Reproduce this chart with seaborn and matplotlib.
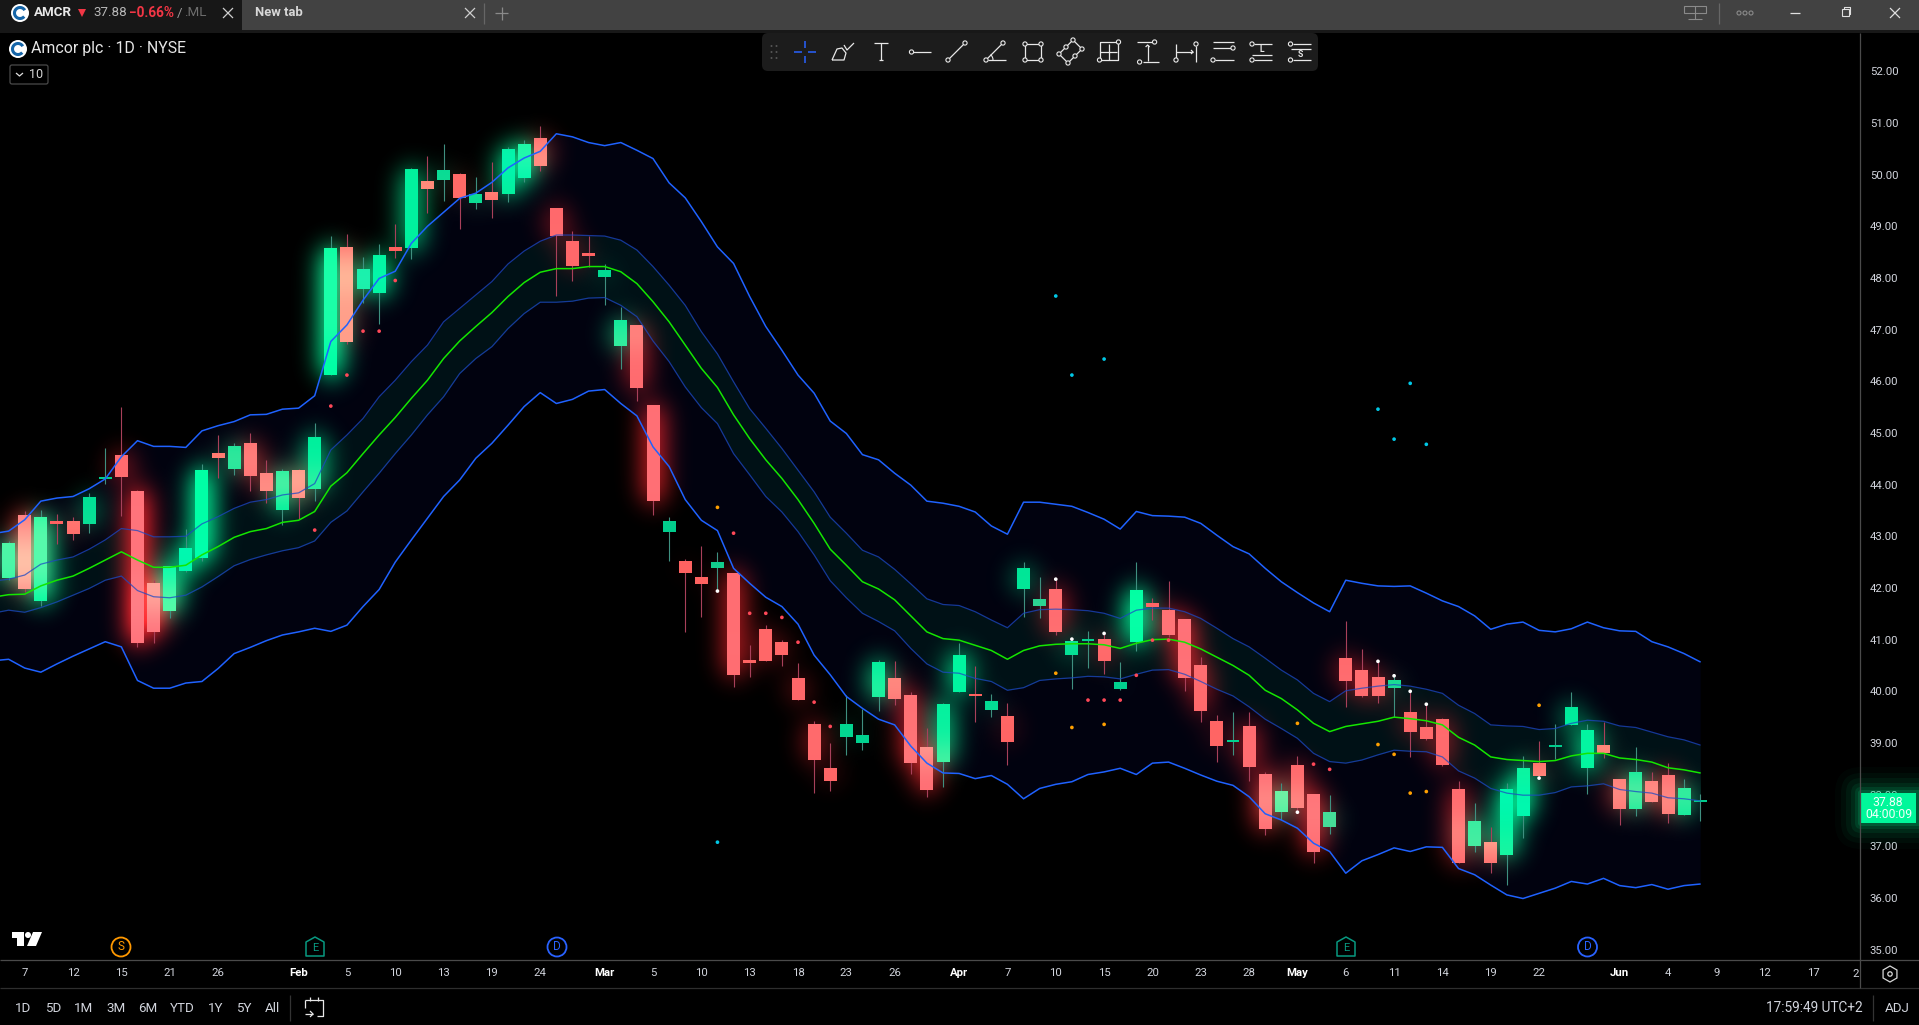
import math
import numpy as np
import pandas as pd
import matplotlib
matplotlib.use("Agg")
import matplotlib.pyplot as plt
import seaborn as sns
from matplotlib.patches import Rectangle, Circle, Polygon, RegularPolygon, FancyBboxPatch, Arc

# ----------------- Daily candles (AMCR) -----------------
highs = [42.90,43.48,43.50,43.43,43.37,43.83,44.70,45.50,43.90,42.15,42.42,43.14,44.40,44.96,44.80,45.00,44.48,44.30,44.30,45.19,
         48.81,48.85,48.41,48.66,49.05,50.13,50.36,50.59,50.03,49.95,50.25,50.54,50.67,50.94,49.35,48.91,48.81,48.27,47.44,47.09,
         45.54,43.37,42.56,42.81,42.70,42.29,40.90,41.28,40.99,40.55,39.43,39.00,39.93,39.66,40.61,40.59,39.99,39.29,39.77,40.94,
         40.49,39.95,39.77,42.50,42.21,42.15,40.99,41.17,41.11,40.57,42.50,41.81,42.14,41.40,40.66,39.54,39.60,39.60,38.44,38.23,
         38.75,38.01,37.99,41.36,40.82,40.57,40.30,39.99,39.74,39.48,38.26,37.84,37.37,38.23,38.75,39.04,39.37,39.99,39.37,39.41,
         38.30,38.92,38.44,38.61,38.30,38.01]
lows = [42.15,41.92,41.65,42.86,42.92,43.06,44.01,43.39,40.86,40.94,41.42,42.31,42.52,44.13,44.19,43.88,43.65,43.22,43.34,43.68,
        46.12,46.72,47.51,47.11,48.39,48.37,49.26,49.49,48.95,49.34,49.16,49.47,49.86,50.07,47.65,47.94,48.21,47.48,46.24,45.62,
        43.41,42.52,41.15,41.44,41.94,40.08,40.28,40.59,40.49,39.83,38.03,38.07,38.77,38.86,39.62,39.74,38.40,37.95,38.15,39.99,
        39.41,39.50,38.57,41.44,41.42,41.09,40.05,40.45,40.34,40.03,40.78,41.38,41.05,40.01,39.41,38.63,38.77,38.26,37.22,37.51,
        37.66,36.68,37.24,39.70,39.89,39.77,39.50,38.73,39.06,38.55,36.68,36.89,36.48,36.25,37.16,38.32,38.69,39.35,38.01,38.71,
        37.41,37.59,37.86,37.45,37.61,37.49]
opens = [42.19,43.41,41.74,43.30,43.30,43.24,44.10,44.57,43.88,42.08,41.55,42.33,42.58,44.61,44.30,44.79,44.21,43.51,44.28,43.92,
         46.12,48.58,47.79,47.71,48.60,48.58,49.86,49.90,50.01,49.45,49.65,49.63,49.94,50.71,49.35,48.70,48.48,48.02,46.68,47.07,
         45.52,43.08,42.52,42.21,42.39,42.29,40.61,41.19,40.95,40.24,39.35,38.50,39.12,39.00,39.89,40.24,39.91,38.92,38.63,39.99,
         39.95,39.64,39.52,41.98,41.65,41.98,40.70,40.97,41.01,40.05,40.95,41.71,41.57,41.40,40.51,39.41,39.02,39.33,38.40,37.66,
         38.57,38.01,37.37,40.63,40.41,40.26,40.06,39.58,39.31,39.45,38.11,37.01,37.08,36.83,37.59,38.61,38.92,39.35,38.52,38.96,
         38.30,37.72,38.26,38.38,37.61,37.86]
closes = [42.85,41.98,43.35,43.24,43.05,43.76,44.11,44.15,40.94,41.15,42.41,42.77,44.28,44.52,44.73,44.17,43.88,44.26,43.74,44.92,
          48.56,46.76,48.17,48.43,48.52,50.09,49.72,50.09,49.55,49.61,49.51,50.50,50.59,50.17,48.81,48.23,48.43,48.15,47.17,45.87,
          43.68,43.28,42.29,42.08,42.50,40.32,40.55,40.59,40.70,39.83,38.67,38.26,39.37,39.14,40.55,39.85,38.61,38.09,39.75,40.70,
          39.91,39.81,39.02,42.37,41.77,41.15,40.97,41.01,40.59,40.18,41.94,41.63,41.09,40.26,39.62,38.94,39.06,38.54,37.34,38.05,
          37.74,36.89,37.65,40.20,39.91,39.91,40.20,39.21,39.08,38.57,36.68,37.49,36.68,38.09,38.50,38.36,38.96,39.68,39.25,38.81,
          37.72,38.42,37.86,37.63,38.13,37.88]
# how strongly each candle glows in the picture
glow_strength = [.8,.9,.9,.1,.3,.4,0,.6,1,.9,.9,.8,1,.2,.5,.6,.6,.7,.6,.7,
                 1,.3,.6,.8,0,.7,.1,.3,.2,.3,.2,.7,.8,.5,.5,.4,.2,.3,.6,.6,
                 .8,0,.1,.1,0,.7,.2,.3,.3,.4,.5,.3,.2,.1,.7,.5,.7,.8,.7,.8,
                 0,.3,.2,.5,.1,.6,.4,.1,.4,.1,1,.3,.6,.8,.5,.2,.1,.6,.8,.7,
                 .5,.8,.3,.5,.5,.5,.3,.4,.3,.5,.6,.6,.4,.8,.8,.3,0,.6,.8,.2,.6,.6,.5,.6,.6,0]

# ----------------- Bands (first value sits one session left of candle 0) -----------------
upper_outer = [43.05,43.10,43.32,43.68,43.74,43.77,43.92,44.11,44.54,44.85,44.74,44.74,44.72,45.04,45.14,45.22,45.35,45.36,45.46,45.48,45.72,
               46.77,47.09,47.57,47.99,48.13,48.67,49.00,49.27,49.54,49.64,49.85,50.13,50.32,50.45,50.79,50.73,50.62,50.56,50.62,50.47,
               50.31,49.84,49.55,49.09,48.60,48.28,47.64,47.06,46.60,46.12,45.77,45.23,44.99,44.58,44.48,44.22,43.99,43.68,43.64,43.58,
               43.47,43.20,43.04,43.66,43.66,43.62,43.58,43.46,43.33,43.14,43.48,43.40,43.39,43.37,43.25,43.02,42.80,42.66,42.38,42.12,
               41.91,41.71,41.54,42.15,42.09,42.04,42.03,42.04,41.90,41.75,41.64,41.46,41.20,41.30,41.34,41.18,41.15,41.21,41.34,41.23,
               41.17,41.16,40.96,40.86,40.73,40.57]
upper_inner = [42.13,42.17,42.25,42.46,42.54,42.60,42.75,42.93,43.15,43.11,42.99,42.99,43.00,43.24,43.38,43.54,43.66,43.71,43.80,43.84,44.02,
               44.67,44.96,45.28,45.70,46.02,46.38,46.70,47.15,47.41,47.67,47.93,48.27,48.52,48.71,48.83,48.83,48.82,48.81,48.73,48.54,
               48.22,47.86,47.47,46.96,46.53,45.99,45.47,45.09,44.70,44.28,43.86,43.37,43.06,42.73,42.60,42.36,42.08,41.79,41.68,41.66,
               41.54,41.38,41.23,41.51,41.58,41.59,41.58,41.56,41.51,41.41,41.57,41.61,41.61,41.54,41.41,41.22,41.02,40.86,40.64,40.41,
               40.22,39.96,39.80,40.01,40.06,40.10,40.13,40.10,40.04,39.96,39.73,39.57,39.35,39.33,39.32,39.26,39.28,39.38,39.44,39.42,
               39.33,39.30,39.21,39.12,39.06,38.96]
middle = [41.82,41.87,41.88,42.04,42.15,42.23,42.38,42.54,42.70,42.54,42.40,42.40,42.44,42.64,42.80,42.98,43.09,43.15,43.27,43.31,43.48,
          43.97,44.23,44.60,44.96,45.30,45.67,46.02,46.44,46.78,47.06,47.33,47.64,47.91,48.11,48.18,48.18,48.22,48.22,48.12,47.89,
          47.54,47.15,46.70,46.25,45.88,45.35,44.89,44.48,44.12,43.71,43.25,42.75,42.44,42.12,41.98,41.77,41.46,41.15,41.02,40.99,
          40.89,40.79,40.62,40.79,40.88,40.91,40.92,40.92,40.90,40.83,40.93,41.00,41.01,40.95,40.82,40.66,40.50,40.31,40.02,39.86,
          39.64,39.38,39.22,39.32,39.37,39.42,39.50,39.47,39.43,39.35,39.11,38.96,38.73,38.68,38.66,38.64,38.66,38.75,38.80,38.80,
          38.71,38.68,38.63,38.52,38.48,38.42]
lower_inner = [41.51,41.57,41.53,41.62,41.73,41.86,41.99,42.15,42.23,41.95,41.83,41.81,41.86,42.02,42.22,42.43,42.55,42.64,42.72,42.78,42.91,
               43.27,43.49,43.86,44.22,44.60,44.96,45.35,45.70,46.15,46.44,46.67,47.02,47.31,47.53,47.53,47.55,47.61,47.62,47.47,47.25,
               46.78,46.38,45.89,45.49,45.18,44.60,44.19,43.77,43.47,43.09,42.64,42.14,41.81,41.51,41.35,41.17,40.83,40.53,40.37,40.35,
               40.25,40.19,40.02,40.07,40.21,40.24,40.26,40.29,40.28,40.24,40.33,40.41,40.42,40.33,40.19,40.04,39.91,39.70,39.46,39.28,
               39.09,38.80,38.64,38.61,38.67,38.77,38.86,38.84,38.83,38.73,38.46,38.32,38.12,38.03,37.99,37.99,38.04,38.15,38.17,38.21,
               38.10,38.06,38.03,37.94,37.92,37.88]
lower_outer = [40.59,40.62,40.45,40.37,40.53,40.68,40.82,40.96,40.86,40.21,40.06,40.06,40.16,40.19,40.44,40.73,40.85,40.98,41.09,41.15,41.22,
               41.16,41.28,41.64,41.97,42.50,42.93,43.35,43.77,44.09,44.51,44.80,45.15,45.51,45.78,45.57,45.65,45.81,45.84,45.57,45.33,
               44.73,44.35,43.71,43.31,43.11,42.38,42.09,41.82,41.64,41.30,40.70,40.32,39.90,39.67,39.46,39.35,38.94,38.61,38.42,38.41,
               38.31,38.37,38.20,37.92,38.12,38.20,38.25,38.39,38.44,38.51,38.39,38.61,38.63,38.51,38.38,38.26,38.18,37.96,37.63,37.51,
               37.35,37.06,36.90,36.48,36.72,36.84,36.97,36.90,36.99,36.98,36.57,36.45,36.25,36.06,35.99,36.09,36.19,36.32,36.27,36.38,
               36.24,36.20,36.26,36.17,36.24,36.27]

# ----------------- Signal dots -----------------
red_idx = [19,20,21,22,23,24,45,46,47,48,49,50,51,67,68,69,70,71,72,81,82]
red_val = [43.12,45.52,46.12,46.97,46.97,47.95,43.06,41.51,41.51,41.43,40.95,39.79,39.32,39.83,39.83,39.83,40.31,40.99,40.99,38.59,38.49]
orange_idx = [44,65,66,68,80,85,86,87,88,95]
orange_val = [43.56,40.35,39.30,39.36,39.38,38.97,38.78,38.03,38.06,39.73]
white_idx = [44,65,66,68,80,85,86,87,88,95]
white_val = [41.94,42.17,41.01,41.12,37.66,40.58,40.30,40.00,39.75,38.32]
cyan_idx = [44,65,66,68,85,86,87,88]
cyan_val = [37.08,47.65,46.12,46.43,45.46,44.88,45.96,44.78]

# ----------------- Axis labels -----------------
tick_pos = [1,4,7,10,13,18,21,24,27,30,33,37,40,43,46,49,52,55,59,62,65,68,71,74,77,80,83,86,89,92,95,100,103,106,109,112]
tick_labels = ["7","12","15","21","26","Feb","5","10","13","19","24","Mar","5","10","13","18","23","26","Apr",
               "7","10","15","20","23","28","May","6","11","14","19","22","Jun","4","9","12","17"]
month_labels = ["Feb","Mar","Apr","May","Jun"]
price_ticks = list(range(35, 53))
range_buttons = ["1D","5D","1M","3M","6M","YTD","1Y","5Y","All"]
range_button_x = [23,53,84,116,148,182,216,244,272]

GREEN_LOW, GREEN_HIGH = np.array([0, .80, .55]), np.array([0, 1, .62])
RED_LOW, RED_HIGH = np.array([1, .38, .37]), np.array([1, .44, .47])
GLOW_GREEN, GLOW_RED = np.array([0, 1, .62]), np.array([1, .15, .18])
TEXT = "#d1d4dc"

sns.set_theme(style="dark", rc={"axes.facecolor": "black", "figure.facecolor": "black"})
plt.rcParams["font.family"] = ["Roboto", "DejaVu Sans"]

fig = plt.figure(figsize=(19.19, 10.25), dpi=100)
ax = fig.add_axes([0, 65 / 1025, 1860 / 1919, 927 / 1025])
XMIN, XMAX, YMIN, YMAX = -0.534, 114.92, 34.80, 52.74

n = len(closes)
idx = np.arange(n)
band_x = np.arange(-1, n)
hi, lo, op, cl = map(np.array, (highs, lows, opens, closes))
strength = np.array(glow_strength)
rising = cl >= op
body_top, body_bot = np.maximum(op, cl), np.minimum(op, cl)
body_h = np.maximum(body_top - body_bot, 0.04)

# 1. band fills
ax.fill_between(band_x, lower_outer, upper_outer, color="#01020f", lw=0, zorder=1)
ax.fill_between(band_x, lower_inner, upper_inner, color="#001116", lw=0, zorder=1.1)

# 2. glow as a blurred rectangle per candle, added up
erf = np.vectorize(math.erf)
def blur(v, a, b, s):
    return 0.5 * (erf((v - a) / (s * 1.414)) - erf((v - b) / (s * 1.414)))

gx_grid = np.linspace(XMIN, 105, 850)
gy_grid = np.linspace(YMAX, YMIN, 464)
glow = np.zeros((len(gy_grid), len(gx_grid), 3))
profiles = []
for i in idx:
    col = GLOW_GREEN if rising[i] else GLOW_RED
    px = blur(gx_grid, i - 0.4, i + 0.4, 0.8) * strength[i] * 1.9
    py = blur(gy_grid, body_bot[i], body_bot[i] + body_h[i], 0.25)
    glow += np.outer(py, px)[:, :, None] * col
    profiles.append((px, py, col))
glow = np.clip(glow, 0, 1)
alpha = glow.max(axis=2, keepdims=True)
rgba = np.dstack([glow / np.maximum(alpha, 1e-3), alpha])
ax.imshow(rgba, extent=(XMIN, 105, YMIN, YMAX), aspect="auto", interpolation="bilinear", zorder=1.5)

# 3. candles: wicks, then bodies, then the lighter tint the neighbouring glow gives a body
wick_colors = ["#3f9080" if r else "#a8405a" for r in rising]
ax.vlines(idx, lo, hi, colors=wick_colors, linewidth=0.8, zorder=2)
body_colors = [(GREEN_LOW + (GREEN_HIGH - GREEN_LOW) * s) if r else (RED_LOW + (RED_HIGH - RED_LOW) * s)
               for r, s in zip(rising, strength)]
ax.bar(idx, body_h, bottom=body_bot, width=0.8, color=body_colors, linewidth=0, zorder=3)
for i in idx:
    rows = np.where((gy_grid <= body_bot[i] + body_h[i]) & (gy_grid >= body_bot[i]))[0]
    if len(rows) < 3:
        continue
    c = int(np.argmin(np.abs(gx_grid - i)))
    px, py, col = profiles[i]
    around = np.clip(glow[rows, c] - 0.8 * (py[rows] * px[c])[:, None] * col, 0, 1)
    tint = 1 - (1 - body_colors[i]) * (1 - around)
    ax.imshow(tint[:, None, :], extent=(i - 0.4, i + 0.4, body_bot[i], body_bot[i] + body_h[i]),
              aspect="auto", interpolation="bilinear", zorder=3.1)

# 4. bands
for values, color, lw, a in [(upper_outer, "#1f62ff", 1.1, 1), (lower_outer, "#1f62ff", 1.1, 1),
                             (upper_inner, "#1c49c4", 0.9, .75), (lower_inner, "#1c49c4", 0.9, .75),
                             (middle, "#14e600", 1.1, 1)]:
    sns.lineplot(x=band_x, y=values, color=color, linewidth=lw, alpha=a, estimator=None, ax=ax, zorder=4)

# 5. signal dots
dots = pd.DataFrame({
    "x": red_idx + orange_idx + white_idx + cyan_idx,
    "y": red_val + orange_val + white_val + cyan_val,
    "kind": ["red"] * len(red_idx) + ["orange"] * len(orange_idx) + ["white"] * len(white_idx) + ["cyan"] * len(cyan_idx),
})
sns.scatterplot(data=dots, x="x", y="y", hue="kind", s=7, linewidth=0, legend=False, ax=ax, zorder=5,
                palette={"red": "#ff4858", "orange": "#ffa000", "white": "#ffffff", "cyan": "#00c8e6"})

# 6. axes
ax.set_xlim(XMIN, XMAX)
ax.set_ylim(YMIN, YMAX)
ax.set_xlabel("")
ax.set_ylabel("")
ax.grid(False)
for side in ax.spines.values():
    side.set_visible(False)
ax.yaxis.tick_right()
ax.set_yticks(price_ticks, [f"{v:.2f}" for v in price_ticks])
ax.set_xticks(tick_pos, tick_labels)
ax.tick_params(axis="both", length=0, labelsize=8.2, labelcolor=TEXT)
ax.tick_params(axis="y", pad=7)
ax.tick_params(axis="x", pad=6)
for lab in ax.get_xticklabels():
    if lab.get_text() in month_labels:
        lab.set_fontweight("bold")
        lab.set_color("white")

# ----------------- Window chrome, drawn in pixel coordinates -----------------
ui = fig.add_axes([0, 0, 1, 1], zorder=10)
ui.set_xlim(0, 1919)
ui.set_ylim(1025, 0)
ui.axis("off")
ui.patch.set_alpha(0)

def seg(*pts, color="#e8e8e8", lw=0.9):
    xs, ys = zip(*pts)
    ui.plot(xs, ys, color=color, lw=lw, solid_capstyle="butt")

def label(x, y, s, size=8.2, color=TEXT, weight="normal", ha="center"):
    ui.text(x, y, s, fontsize=size, color=color, fontweight=weight, ha=ha, va="center")

# tabs
ui.add_patch(Rectangle((0, 0), 1919, 30, color="#424242", lw=0))
ui.add_patch(Rectangle((0, 30), 1919, 3, color="#181818", lw=0))
ui.add_patch(Rectangle((0, 0), 242, 33, color="#171717", lw=0))
ui.add_patch(Circle((20, 13), 9, color="white", lw=0))
ui.add_patch(Arc((20, 13), 11, 11, theta1=40, theta2=330, color="#1565a8", lw=2.2))
label(34, 13, "AMCR", 9.6, "#e8e8e8", "bold", "left")
ui.add_patch(Polygon([(78, 9), (86, 9), (82, 17)], color="#f23645", lw=0))
label(93, 13, "37.88", 9.6, "#b8b8b8", ha="left")
label(129, 13, "\u22120.66%", 9.8, "#f23645", "bold", "left")
label(177, 13, "/", 9.6, "#9a9a9a", ha="left")
label(184, 13, ".ML", 9.6, "#6e6e6e", ha="left")
label(255, 13, "New tab", 9.4, "#d8d8d8", "bold", "left")
for cx in (228, 470):
    seg((cx - 5, 8), (cx + 5, 18), color="#cfcfcf")
    seg((cx - 5, 18), (cx + 5, 8), color="#cfcfcf")
seg((484, 3), (484, 24), color="#666666")
seg((495, 13), (508, 13), color="#8a8a8a")
seg((502, 7), (502, 20), color="#8a8a8a")

# window buttons
ui.add_patch(Rectangle((1684, 6), 22, 7, fc="none", ec="#8a8a8a", lw=0.8))
seg((1695, 6), (1695, 19), color="#8a8a8a", lw=0.8)
seg((1688, 19), (1702, 19), color="#8a8a8a", lw=0.8)
seg((1719, 3), (1719, 24), color="#666666")
for cx in (1739, 1745, 1751):
    ui.add_patch(Circle((cx, 13), 2, fc="none", ec="#8a8a8a", lw=0.8))
seg((1790, 13), (1800, 13), color="#e0e0e0")
ui.add_patch(Rectangle((1842, 9), 7, 7, fc="none", ec="#e0e0e0", lw=0.8))
seg((1844, 9), (1844, 7), (1850, 7), (1850, 14), (1849, 14), color="#e0e0e0", lw=0.8)
seg((1890, 8), (1900, 18), color="#e0e0e0")
seg((1890, 18), (1900, 8), color="#e0e0e0")

# legend
ui.add_patch(Circle((18, 49), 9, color="white", lw=0))
ui.add_patch(Arc((18, 49), 11, 11, theta1=40, theta2=330, color="#1565a8", lw=2.2))
label(31, 49, "Amcor plc \u00b7 1D \u00b7 NYSE", 11.4, "#e6e6e6", ha="left")
ui.add_patch(FancyBboxPatch((10, 65), 38, 19, boxstyle="round,pad=0,rounding_size=2", fc="none", ec="#4a4a4a", lw=0.9))
seg((16, 73), (19.5, 76), (23, 73), color="#e0e0e0")
label(36, 75, "10", 9, "#d8d8d8")

# drawing toolbar
ui.add_patch(FancyBboxPatch((762, 33), 556, 38, boxstyle="round,pad=0,rounding_size=6", fc="#1c1c1c", ec="none"))

def node(x, y):
    ui.add_patch(Circle((x, y), 2.1, fc="#1c1c1c", ec="#e8e8e8", lw=0.8, zorder=6))

for dx in (-2.5, 2.5):
    for dy in (-6, 0, 6):
        ui.add_patch(Circle((774 + dx, 52 + dy), 1, color="#555555", lw=0))
cy = 52
x = 805
seg((x - 11, cy), (x - 3, cy), color="#2962ff", lw=1.1)
seg((x + 3, cy), (x + 11, cy), color="#2962ff", lw=1.1)
seg((x, cy - 11), (x, cy - 4), color="#2962ff", lw=1.1)
seg((x, cy + 4), (x, cy + 11), color="#2962ff", lw=1.1)
x = 843
seg((x - 11, cy + 8), (x - 6, cy - 3), (x - 1, cy - 4), (x + 3, cy + 1), (x + 1, cy + 8), (x - 11, cy + 8))
seg((x + 1, cy - 7), (x + 4, cy - 2), (x + 11, cy - 9))
x = 881
seg((x - 7, cy - 9), (x + 7, cy - 9))
seg((x, cy - 9), (x, cy + 8))
seg((x - 2, cy + 8), (x + 2, cy + 8))
x = 919.5
seg((x - 7, cy), (x + 11, cy))
node(x - 8, cy)
x = 957
seg((x - 9, cy + 8), (x + 8, cy - 9))
node(x - 9, cy + 8)
node(x + 8, cy - 9)
x = 995
seg((x - 9, cy + 8), (x + 8, cy - 9))
seg((x - 7, cy + 8), (x + 11, cy + 8))
ui.add_patch(Arc((x - 9, cy + 8), 14, 14, theta1=-50, theta2=0, color="#e8e8e8", lw=0.8))
node(x - 9, cy + 8)
node(x + 8, cy - 9)
x = 1033
seg((x - 8, cy - 8), (x + 8, cy - 8), (x + 8, cy + 8), (x - 8, cy + 8), (x - 8, cy - 8))
for sx in (-8, 8):
    for sy in (-8, 8):
        node(x + sx, cy + sy)
x = 1070
seg((x + 3, cy - 12), (x + 12, cy - 3), (x - 2, cy + 11), (x - 11, cy + 2), (x + 3, cy - 12))
for p in [(3, -12), (12, -3), (-2, 11), (-11, 2), (-4, -5), (5, 4)]:
    node(x + p[0], cy + p[1])
x = 1108.5
seg((x - 9, cy - 10), (x + 9, cy - 10), (x + 9, cy + 8), (x - 9, cy + 8), (x - 9, cy - 10))
seg((x, cy - 8), (x, cy + 8))
seg((x - 9, cy), (x + 8, cy))
node(x + 10, cy - 10)
node(x - 9, cy + 8)
x = 1147.6
seg((x - 11, cy - 10), (x + 5, cy - 10))
seg((x - 5, cy + 10), (x + 11, cy + 10))
seg((x, cy + 9), (x, cy - 7))
seg((x - 2, cy - 5), (x, cy - 7), (x + 2, cy - 5))
node(x + 7, cy - 10)
node(x - 8, cy + 10)
x = 1186
seg((x - 10, cy - 8), (x - 10, cy + 7))
seg((x + 10, cy - 6), (x + 10, cy + 10))
seg((x - 10, cy), (x + 7, cy))
seg((x + 5, cy - 2), (x + 7, cy), (x + 5, cy + 2))
node(x - 10, cy + 8)
node(x + 10, cy - 8)
x = 1223
seg((x - 10, cy - 10), (x + 11, cy - 10))
seg((x - 10, cy - 4), (x + 9, cy - 4))
seg((x - 8, cy + 8), (x + 11, cy + 8))
node(x + 10, cy - 4)
node(x - 10, cy + 8)
x = 1261
seg((x - 7, cy - 8), (x + 11, cy - 8))
seg((x - 9, cy + 3), (x + 11, cy + 3))
seg((x - 7, cy + 8), (x + 11, cy + 8))
node(x - 9, cy - 8)
node(x - 9, cy + 8)
label(x + 1, cy - 2.5, "L", 6.2, "#e8e8e8", "bold")
x = 1299.5
seg((x - 7, cy - 8), (x + 11, cy - 8))
seg((x - 9, cy - 3), (x + 11, cy - 3))
seg((x - 7, cy + 8), (x + 11, cy + 8))
node(x - 9, cy - 8)
node(x - 9, cy + 8)
label(x + 1, cy + 2.5, "S", 6.2, "#e8e8e8", "bold")

# tradingview mark and event badges
ui.add_patch(Polygon([(12, 932), (24, 932), (24, 946), (17, 946), (17, 938), (12, 938)], color="white", lw=0))
ui.add_patch(Circle((28, 935), 3, color="white", lw=0))
ui.add_patch(Polygon([(33, 932), (42, 932), (36, 946), (27, 946)], color="white", lw=0))
for bx, letter, color in [(121, "S", "#ff9800"), (557, "D", "#2962ff"), (1587.5, "D", "#2962ff")]:
    ui.add_patch(Circle((bx, 947), 9.5, fc="black", ec=color, lw=1.3))
    label(bx, 947, letter, 8.5, color)
for bx in (315, 1346):
    ui.add_patch(Polygon([(bx - 9, 942), (bx, 937), (bx + 9, 942), (bx + 9, 956), (bx - 9, 956)],
                         fc="black", ec="#089981", lw=1.1, joinstyle="round"))
    label(bx, 948, "E", 8, "#089981")

# frame lines and bottom bar
seg((0, 960), (1919, 960), color="#4a4a4a", lw=0.9)
seg((0, 988), (1919, 988), color="#2e2e2e", lw=0.9)
seg((1860, 33), (1860, 988), color="#4a4a4a", lw=0.9)
ui.add_patch(Rectangle((1845, 962), 14.5, 24, color="black", lw=0))
label(1859, 974, "2", 8.2, ha="right")
ui.add_patch(RegularPolygon((1890, 974), 6, radius=8, fc="none", ec="#d8d8d8", lw=0.9))
ui.add_patch(Circle((1890, 974), 2.2, fc="none", ec="#d8d8d8", lw=0.9))
for s, bx in zip(range_buttons, range_button_x):
    label(bx, 1008, s, 9.6)
seg((290, 995), (290, 1021), color="#333333")
seg((305, 1000), (323, 1000), (323, 1016), (317, 1016))
seg((305, 1000), (305, 1008))
seg((310, 997), (310, 1001))
seg((318, 997), (318, 1001))
seg((305, 1014), (313, 1014))
seg((310, 1011), (313, 1014), (310, 1017))
label(1814, 1008, "17:59:49 UTC+2", 9.8)
seg((1873, 995), (1873, 1021), color="#333333")
label(1897, 1008, "ADJ", 9.6)

# last price tag
for grow, a in [(26, .025), (20, .04), (15, .05), (10, .07), (6, .10), (3, .14)]:
    ui.add_patch(FancyBboxPatch((1861 - grow, 793 - grow), 58 + 2 * grow, 30 + 2 * grow,
                                boxstyle=f"round,pad=0,rounding_size={grow}", fc="#00ff9a", ec="none", alpha=a))
ui.add_patch(Rectangle((1861, 793), 55, 30, color="#00f79a", lw=0))
label(1888, 802, "37.88", 8.8, "#f2fffa")
label(1889, 815, "04:00:09", 8.8, "#f2fffa")

fig.savefig("out.png", dpi=100, facecolor="black")
